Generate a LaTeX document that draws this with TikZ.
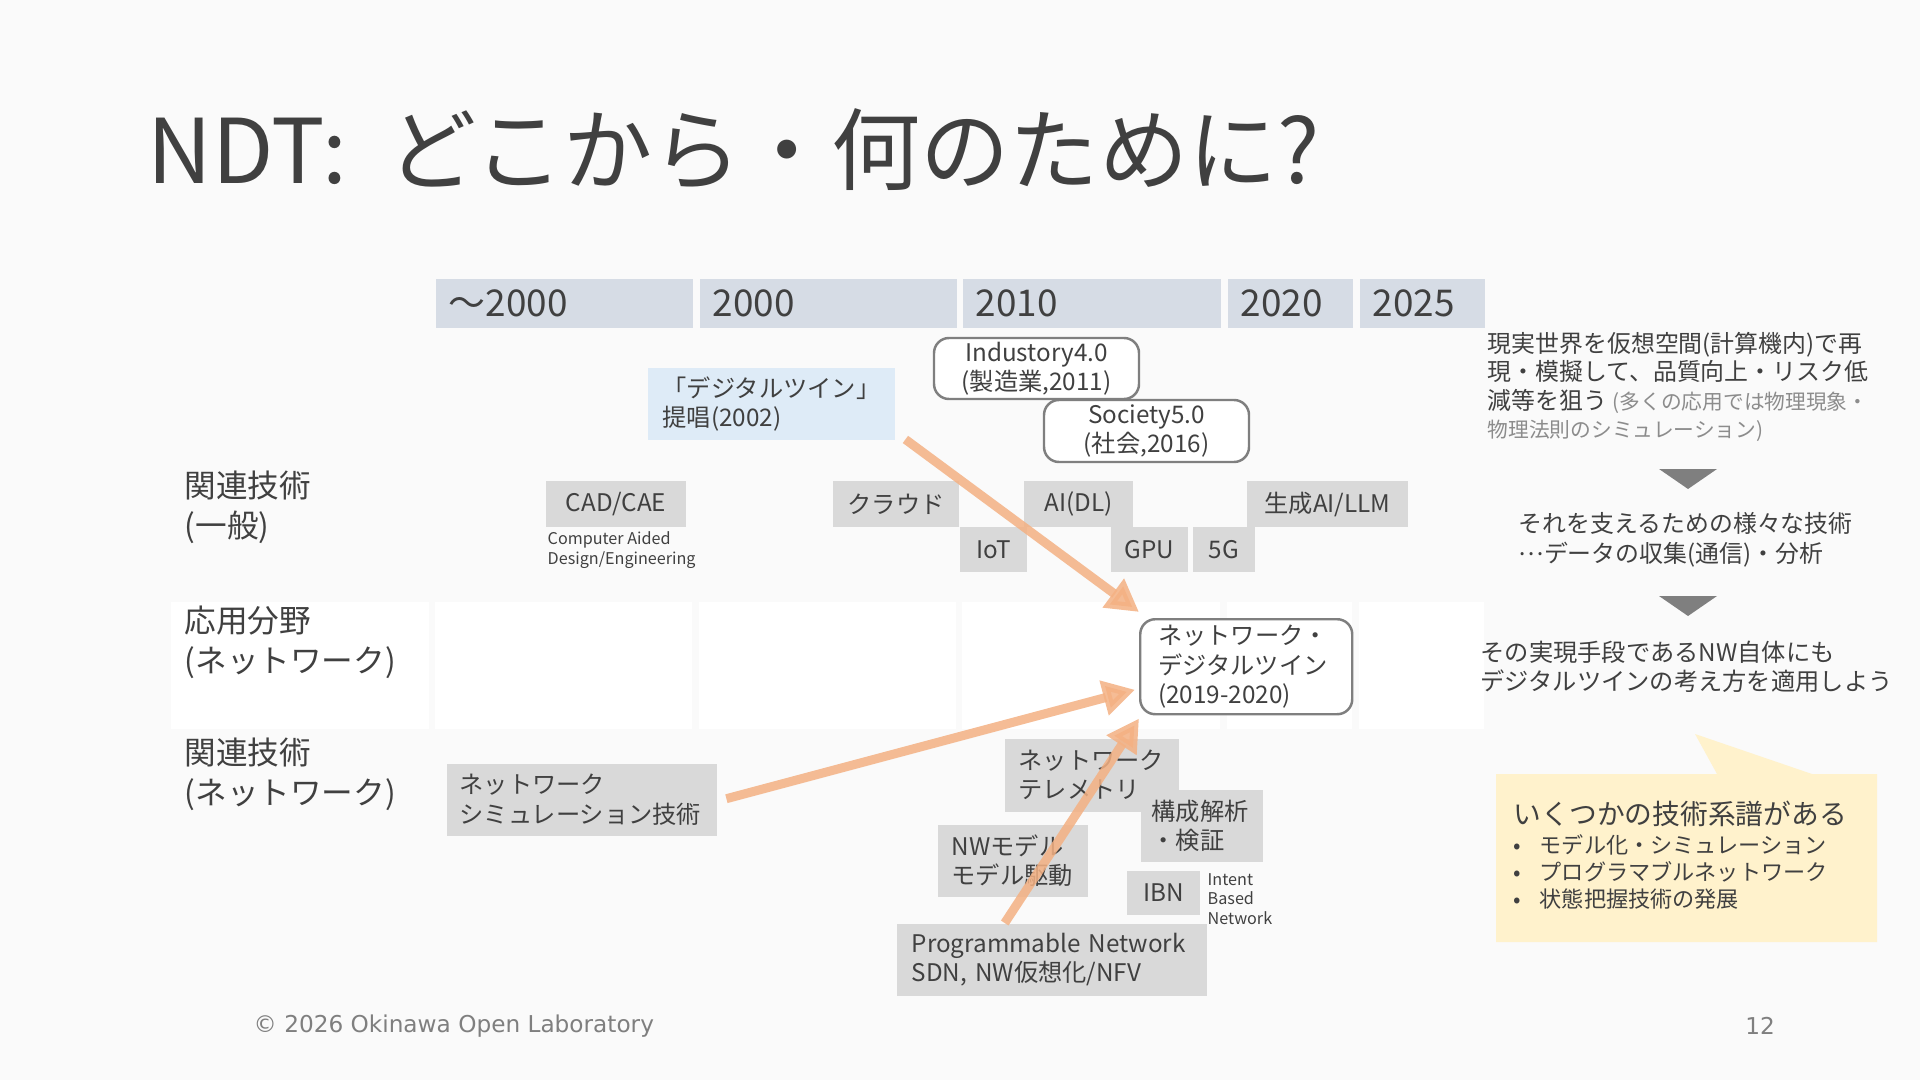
\documentclass[tikz,border=0pt]{standalone}
\usepackage{fontspec}
\setmainfont{Noto Sans CJK JP}
\newfontfamily\footfamily{DejaVu Sans}
\usetikzlibrary{arrows.meta}

\definecolor{slidebg}{HTML}{FAFAFA}
\definecolor{inkgray}{HTML}{404040}
\definecolor{boxgray}{HTML}{D9D9D9}
\definecolor{yearblue}{HTML}{D6DCE5}
\definecolor{paleblue}{HTML}{DEEBF7}
\definecolor{noteyellow}{HTML}{FFF2CC}
\definecolor{arroworange}{HTML}{F4B183}
\definecolor{edgegray}{HTML}{7F7F7F}
\definecolor{softgray}{HTML}{8C8C8C}

\newcommand\ndtitle{\fontsize{25.4pt}{30pt}\selectfont}
\newcommand\ndyear{\fontsize{10.5pt}{12pt}\selectfont}
\newcommand\ndrow{\fontsize{9pt}{11.4pt}\selectfont}
\newcommand\ndtech{\fontsize{6.9pt}{8.3pt}\selectfont}
\newcommand\ndsmall{\fontsize{4.6pt}{5.6pt}\selectfont}
\newcommand\ndnote{\fontsize{6.8pt}{8.1pt}\selectfont}
\newcommand\ndaside{\fontsize{5.9pt}{8.1pt}\selectfont}
\newcommand\ndcallout{\fontsize{7.9pt}{9pt}\selectfont}
\newcommand\ndbullet{\fontsize{6.3pt}{7.7pt}\selectfont}
\newcommand\ndfoot{\footfamily\fontsize{6.6pt}{8pt}\selectfont}

\tikzset{
  yearbox/.style={fill=yearblue, text=inkgray, font=\ndyear, anchor=north west,
    align=left, inner xsep=1.3mm, inner ysep=0pt, minimum height=4.9mm},
  techbox/.style={fill=boxgray, text=inkgray, font=\ndtech, align=center, inner sep=0pt},
  techleft/.style={techbox, anchor=north west, align=left, inner ysep=0pt},
  roundbox/.style={draw=edgegray, line width=0.7pt, fill=white, rounded corners=1.5mm,
    text=inkgray, font=\ndtech, align=center, inner sep=0pt},
  rowlabel/.style={anchor=west, align=left, font=\ndrow, text=inkgray, inner sep=0pt},
  smallnote/.style={anchor=west, align=left, font=\ndsmall, text=inkgray, inner sep=0pt},
  sidenote/.style={anchor=west, align=left, font=\ndnote, text=inkgray, inner sep=0pt},
  twinarrow/.style={draw=arroworange, line width=0.9mm, opacity=0.85,
    -{Triangle[length=3.2mm,width=3.4mm]}},
}

\begin{document}
\begin{tikzpicture}
\useasboundingbox (0,0) rectangle (19.2,-10.8);
\fill[slidebg] (0,0) rectangle (19.2,-10.8);

% title
\node[anchor=base west, font=\ndtitle, text=inkgray, inner sep=0pt] (title) at (1.47,-1.84) {NDT:\hspace{0.45em}どこから・何のために?};

% time axis
\node[yearbox, text width=2.31cm] (y0) at (4.35,-2.78) {〜2000};
\node[yearbox, text width=2.31cm] (y1) at (6.99,-2.78) {2000};
\node[yearbox, text width=2.32cm] (y2) at (9.62,-2.78) {2010};
\node[yearbox, text width=0.99cm] (y3) at (12.27,-2.78) {2020};
\node[yearbox, text width=0.99cm] (y4) at (13.59,-2.78) {2025};

% white band of the application row
\fill[white] (1.71,-6.02) rectangle (4.29,-7.29);
\fill[white] (4.35,-6.02) rectangle (6.92,-7.29);
\fill[white] (6.99,-6.02) rectangle (9.56,-7.29);
\fill[white] (9.62,-6.02) rectangle (12.20,-7.29);
\fill[white] (12.27,-6.02) rectangle (13.52,-7.29);
\fill[white] (13.59,-6.02) rectangle (14.84,-7.29);

% row labels
\node[rowlabel] (rowgen) at (1.84,-5.07) {関連技術\\(一般)};
\node[rowlabel] (rowapp) at (1.84,-6.42) {応用分野\\(ネットワーク)};
\node[rowlabel] (rownet) at (1.84,-7.74) {関連技術\\(ネットワーク)};

% origin of the idea
\node[techleft, fill=paleblue, text width=2.17cm, inner xsep=1.5mm, minimum height=7.2mm] (dtwin) at (6.47,-3.67) {「デジタルツイン」\\提唱(2002)};
\node[roundbox, minimum width=2.05cm, minimum height=6.1mm] (ind40) at (10.365,-3.685) {Industory4.0\\(製造業,2011)};
\node[roundbox, minimum width=2.05cm, minimum height=6.2mm] (soc50) at (11.465,-4.31) {Society5.0\\(社会,2016)};

% general technologies
\node[techbox, minimum width=1.40cm, minimum height=4.6mm] (cad) at (6.16,-5.04) {CAD/CAE};
\node[smallnote] (cadnote) at (5.47,-5.50) {Computer Aided\\Design/Engineering};
\node[techbox, minimum width=1.26cm, minimum height=4.6mm] (cloud) at (8.96,-5.04) {クラウド};
\node[techbox, minimum width=1.09cm, minimum height=4.6mm] (ai) at (10.785,-5.04) {AI(DL)};
\node[techbox, minimum width=1.61cm, minimum height=4.6mm] (genai) at (13.275,-5.04) {生成AI/LLM};
\node[techbox, minimum width=0.67cm, minimum height=4.5mm] (iot) at (9.935,-5.495) {IoT};
\node[techbox, minimum width=0.77cm, minimum height=4.5mm] (gpu) at (11.495,-5.495) {GPU};
\node[techbox, minimum width=0.62cm, minimum height=4.5mm] (fiveg) at (12.24,-5.495) {5G};

% network digital twin
\node[roundbox, anchor=north west, align=left, text width=1.76cm, inner xsep=1.8mm, minimum height=9.5mm] (ndt) at (11.39,-6.18) {ネットワーク・\\デジタルツイン\\(2019-2020)};

% network technologies
\node[techleft, text width=2.44cm, inner xsep=1.3mm, minimum height=7.2mm] (netsim) at (4.46,-7.63) {ネットワーク\\シミュレーション技術};
\node[techleft, text width=1.46cm, inner xsep=1.4mm, minimum height=7.3mm] (telem) at (10.04,-7.38) {ネットワーク\\テレメトリ};
\node[techleft, text width=1.00cm, inner xsep=1.1mm, minimum height=7.2mm] (config) at (11.40,-7.89) {構成解析\\・検証};
\node[techleft, text width=1.22cm, inner xsep=1.4mm, minimum height=7.2mm] (nwmodel) at (9.37,-8.24) {NWモデル\\モデル駆動};
\node[techbox, minimum width=0.73cm, minimum height=4.4mm] (ibn) at (11.635,-8.93) {IBN};
\node[smallnote] (ibnnote) at (12.07,-8.99) {Intent\\Based\\Network};
\node[techleft, text width=2.80cm, inner xsep=1.5mm, minimum height=7.2mm] (prog) at (8.96,-9.23) {Programmable Network\\SDN, NW仮想化/NFV};

% lineages into the network digital twin
\draw[twinarrow] ([shift={(0.1,0.01)}]dtwin.south east) -- ([yshift=0.06cm]ndt.north west);
\draw[twinarrow] ([shift={(0.09,0.01)}]netsim.east) -- ([shift={(-0.04,-0.23)}]ndt.west);
\draw[twinarrow] ([xshift=-4.7mm]prog.north) -- ([yshift=-0.03cm]ndt.south west);

% explanation on the right
\node[sidenote] (why) at (14.87,-3.87) {現実世界を仮想空間(計算機内)で再\\現・模擬して、品質向上・リスク低\\減等を狙う {\ndaside\color{softgray}(多くの応用では物理現象・}\\{\ndaside\color{softgray}物理法則のシミュレーション)}};
\fill[edgegray] (16.59,-4.69) -- (17.17,-4.69) -- (16.88,-4.89) -- cycle;
\node[sidenote, font=\fontsize{6.8pt}{8.4pt}\selectfont] (support) at (15.18,-5.40) {それを支えるための様々な技術\\\raisebox{0.3em}{…}データの収集(通信)・分析};
\fill[edgegray] (16.59,-5.96) -- (17.17,-5.96) -- (16.88,-6.16) -- cycle;
\node[sidenote, font=\fontsize{6.9pt}{8.3pt}\selectfont] (apply) at (14.80,-6.67) {その実現手段であるNW自体にも\\デジタルツインの考え方を適用しよう};

% callout
\fill[noteyellow] (14.96,-7.74) -- (17.17,-7.74) -- (16.95,-7.34) -- (18.12,-7.74) -- (18.77,-7.74) -- (18.77,-9.42) -- (14.96,-9.42) -- cycle;
\node[sidenote, font=\ndcallout] (lineage) at (15.13,-8.14) {いくつかの技術系譜がある};
\node[sidenote, font=\ndbullet] (lineagelist) at (15.13,-8.72) {\makebox[2.6mm][l]{•}モデル化・シミュレーション\\\makebox[2.6mm][l]{•}プログラマブルネットワーク\\\makebox[2.6mm][l]{•}状態把握技術の発展};

% footer
\node[anchor=west, font=\ndfoot, text=edgegray, inner sep=0pt] (copyright) at (2.53,-10.26) {© 2026 Okinawa Open Laboratory};
\node[font=\ndfoot, text=edgegray, inner sep=0pt] (pagenum) at (17.60,-10.26) {12};
\end{tikzpicture}
\end{document}
